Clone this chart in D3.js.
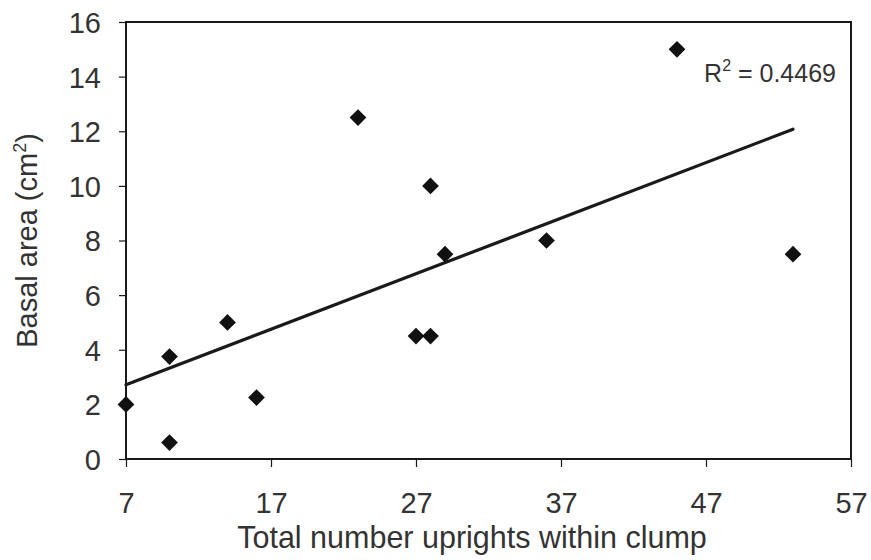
<!DOCTYPE html>
<html>
<head>
<meta charset="utf-8">
<script src="https://cdn.jsdelivr.net/npm/d3@7"></script>
<style>
  html, body { margin: 0; padding: 0; background: #ffffff; }
  svg { display: block; font-family: "Liberation Sans", Arial, sans-serif; }
</style>
</head>
<body>
<svg id="chart" width="871" height="560"></svg>
<script>
// Clump measurements: upright count vs basal area
const uprights  = [7, 10, 10, 14, 16, 23, 27, 28, 28, 29, 36, 45, 53];
const basalArea = [2, 3.75, 0.6, 5, 2.25, 12.5, 4.5, 4.5, 10, 7.5, 8, 15, 7.5];
const xTicks = [7, 17, 27, 37, 47, 57];
const yTicks = [0, 2, 4, 6, 8, 10, 12, 14, 16];
const r2Label = "0.4469";

const points = uprights.map((x, i) => ({ x, y: basalArea[i] }));

const svg = d3.select("#chart");
const margin = { left: 126, right: 20, top: 22, bottom: 101 };
const W = 871, H = 560;
const x = d3.scaleLinear().domain([7, 57]).range([margin.left, W - margin.right]);
const y = d3.scaleLinear().domain([0, 16]).range([H - margin.bottom, margin.top]);

const ink = "#1a1a1a";
const textInk = "#333333";

// Axes
const xAxis = svg.append("g")
  .attr("transform", `translate(0,${y(0)})`)
  .call(d3.axisBottom(x).tickValues(xTicks).tickSizeInner(8).tickSizeOuter(0).tickPadding(25));
const yAxis = svg.append("g")
  .attr("transform", `translate(${x(7)},0)`)
  .call(d3.axisLeft(y).tickValues(yTicks).tickSizeInner(7).tickSizeOuter(0).tickPadding(18));

[xAxis, yAxis].forEach(g => {
  g.select(".domain").remove();
  g.selectAll(".tick line").attr("stroke", ink).attr("stroke-width", 1.2);
  g.selectAll(".tick text")
    .attr("fill", textInk)
    .style("font-size", "29px");
});
xAxis.selectAll(".tick text").attr("dy", "0.71em");
yAxis.selectAll(".tick text").attr("dy", "0.36em");

// Plot frame
svg.append("rect")
  .attr("x", x(7)).attr("y", y(16))
  .attr("width", x(57) - x(7)).attr("height", y(0) - y(16))
  .attr("fill", "none").attr("stroke", ink).attr("stroke-width", 2);

// Least-squares trend line
const mx = d3.mean(uprights), my = d3.mean(basalArea);
const sxy = d3.sum(points, p => (p.x - mx) * (p.y - my));
const sxx = d3.sum(points, p => (p.x - mx) ** 2);
const slope = sxy / sxx, intercept = my - slope * mx;
const [xmin, xmax] = d3.extent(uprights);
svg.append("line")
  .attr("x1", x(xmin)).attr("y1", y(intercept + slope * xmin))
  .attr("x2", x(xmax)).attr("y2", y(intercept + slope * xmax))
  .attr("stroke", ink).attr("stroke-width", 3.2).attr("stroke-linecap", "round");

// Diamond markers
const diamond = d3.symbol().type(d3.symbolSquare).size(140);
svg.append("g").selectAll("path")
  .data(points)
  .join("path")
  .attr("d", diamond)
  .attr("transform", d => `translate(${x(d.x)},${y(d.y)}) rotate(45)`)
  .attr("fill", "#111111");

// R² annotation
const r2 = svg.append("text")
  .attr("x", 836).attr("y", 82)
  .attr("text-anchor", "end")
  .attr("fill", textInk)
  .style("font-size", "25px");
r2.append("tspan").text("R");
r2.append("tspan").attr("dy", -11).style("font-size", "16px").text("2");
r2.append("tspan").attr("dy", 11).text(" = " + r2Label);

// Axis titles
svg.append("text")
  .attr("x", 472).attr("y", 548)
  .attr("text-anchor", "middle")
  .attr("fill", textInk)
  .style("font-size", "30.5px")
  .text("Total number uprights within clump");

const yt = svg.append("text")
  .attr("transform", `translate(37,${(y(0) + y(16)) / 2}) rotate(-90)`)
  .attr("text-anchor", "middle")
  .attr("fill", textInk)
  .style("font-size", "29px");
yt.append("tspan").text("Basal area (cm");
yt.append("tspan").attr("dy", -11).style("font-size", "18px").text("2");
yt.append("tspan").attr("dy", 11).text(")");
</script>
</body>
</html>
